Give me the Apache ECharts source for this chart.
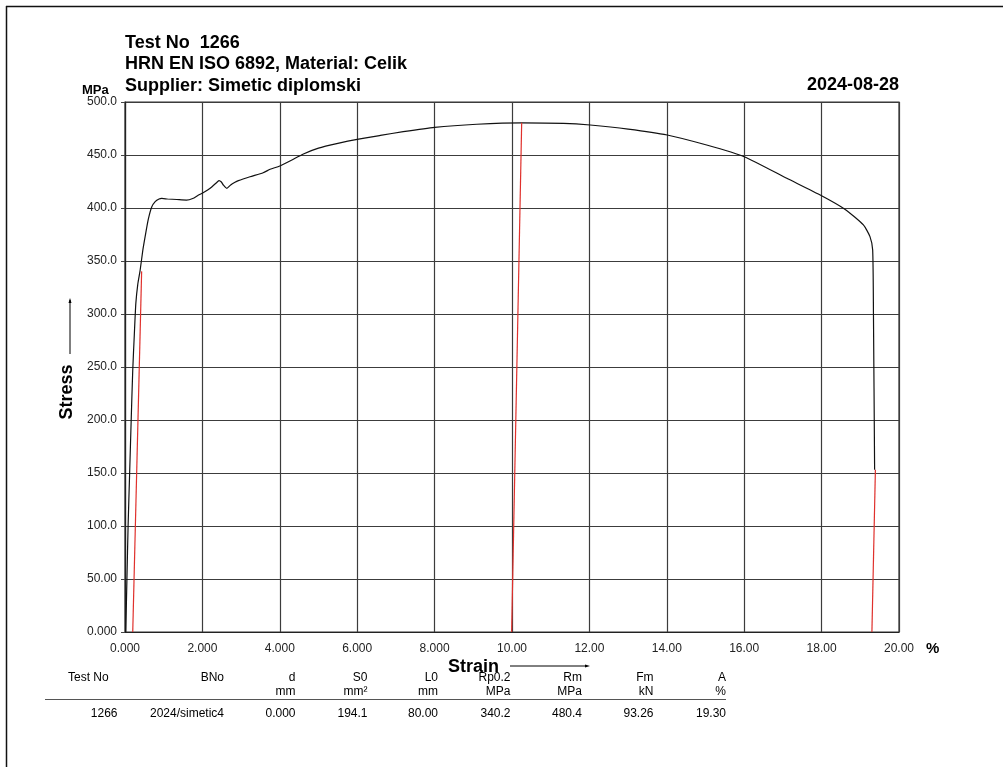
<!DOCTYPE html>
<html>
<head>
<meta charset="utf-8">
<script src="https://cdn.jsdelivr.net/npm/echarts@6/dist/echarts.min.js"></script>
<style>
html,body{margin:0;padding:0;background:#fff;}
#chart{width:1003px;height:767px;}
</style>
</head>
<body>
<div id="chart"></div>
<script>
// ---- data ----
const titleLines = ['Test No  1266', 'HRN EN ISO 6892, Material: Celik', 'Supplier: Simetic diplomski'];
const dateText = '2024-08-28';
const strain = [0.02, 0.05, 0.08, 0.12, 0.16, 0.20, 0.24, 0.28, 0.33, 0.39, 0.46, 0.52, 0.60, 0.69, 0.78, 0.88, 0.95, 1.10, 1.34, 1.59, 1.75, 1.89, 2.05, 2.20, 2.39, 2.43, 2.49, 2.54, 2.63, 2.73, 2.83, 2.93, 3.23, 3.57, 3.75, 4.00, 4.30, 4.61, 5.00, 5.50, 6.00, 6.60, 7.19, 8.00, 9.09, 10.25, 11.33, 12.02, 13.00, 14.01, 15.03, 16.00, 17.10, 18.00, 18.60, 19.08, 19.25, 19.32, 19.34, 19.37];
const stress = [0, 50, 100, 150, 200, 247, 280, 310, 328, 341, 360, 373, 389, 401, 406, 408.5, 409, 408.5, 408, 407.5, 409, 412, 415, 418.6, 424.8, 425.8, 424.5, 421.7, 418.6, 421.7, 424, 425.8, 429.5, 433.3, 436.5, 439.6, 445, 451, 456.5, 461, 464.8, 468.5, 472, 476.1, 479, 480.4, 479.9, 478.3, 474.5, 468.9, 459.4, 448.4, 428, 411.5, 398.8, 384, 373, 360.4, 300, 153];
const rpLineStrain = [0.20, 0.43];
const rpLineStress = [0, 340.2];
const rmLineStrain = [9.99, 10.25];
const rmLineStress = [0, 480.4];
const aLineStrain = [19.30, 19.39];
const aLineStress = [0, 153];
const tableHeaders = ['BNo', 'd', 'S0', 'L0', 'Rp0.2', 'Rm', 'Fm', 'A'];
const tableUnits = ['', 'mm', 'mm²', 'mm', 'MPa', 'MPa', 'kN', '%'];
const tableValues = ['2024/simetic4', '0.000', '194.1', '80.00', '340.2', '480.4', '93.26', '19.30'];
const testNoHeader = 'Test No';
const testNoValue = '1266';

const toPairs = (xs, ys) => xs.map((x, i) => [x, ys[i]]);
const fmt = v => Number(v).toPrecision(4);
const FONT = '"Liberation Sans", Arial, sans-serif';

const chart = echarts.init(document.getElementById('chart'), null, {renderer: 'canvas'});

const colRight = [224, 295.5, 367.5, 438, 510.5, 582, 653.5, 726];
const graphic = [];
// page border (top and left)
graphic.push({type: 'line', shape: {x1: 6, y1: 6.5, x2: 1003, y2: 6.5}, style: {stroke: '#111', lineWidth: 1.5}});
graphic.push({type: 'line', shape: {x1: 6.5, y1: 6, x2: 6.5, y2: 767}, style: {stroke: '#111', lineWidth: 1.5}});
// title lines
titleLines.forEach((t, i) => {
  graphic.push({type: 'text', left: 125, top: 34 + i * 21.5, style: {text: t, font: 'bold 18px ' + FONT, fill: '#000'}});
});
graphic.push({type: 'text', x: 899, y: 85, style: {text: dateText, font: 'bold 18px ' + FONT, fill: '#000', align: 'right', verticalAlign: 'middle'}});
graphic.push({type: 'text', x: 82, y: 90, style: {text: 'MPa', font: 'bold 13px ' + FONT, fill: '#000', verticalAlign: 'middle'}});
graphic.push({type: 'text', x: 926, y: 649, style: {text: '%', font: 'bold 15px ' + FONT, fill: '#000', verticalAlign: 'middle'}});
// Stress label with arrow
graphic.push({type: 'text', x: 67, y: 392, rotation: Math.PI / 2, style: {text: 'Stress', font: 'bold 18px ' + FONT, fill: '#000', align: 'center', verticalAlign: 'middle'}});
graphic.push({type: 'line', shape: {x1: 70, y1: 354, x2: 70, y2: 300}, style: {stroke: '#000', lineWidth: 1}});
graphic.push({type: 'polygon', shape: {points: [[70, 298], [68.5, 303], [71.5, 303]]}, style: {fill: '#000'}});
// Strain label with arrow
graphic.push({type: 'text', x: 448, y: 667, style: {text: 'Strain', font: 'bold 18px ' + FONT, fill: '#000', verticalAlign: 'middle'}});
graphic.push({type: 'line', shape: {x1: 510, y1: 666, x2: 587, y2: 666}, style: {stroke: '#000', lineWidth: 1}});
graphic.push({type: 'polygon', shape: {points: [[590, 666], [585, 664.5], [585, 667.5]]}, style: {fill: '#000'}});
// table
graphic.push({type: 'text', x: 68, y: 678, style: {text: testNoHeader, font: '12px ' + FONT, fill: '#000', verticalAlign: 'middle'}});
graphic.push({type: 'text', x: 117.5, y: 714, style: {text: testNoValue, font: '12px ' + FONT, fill: '#000', align: 'right', verticalAlign: 'middle'}});
tableHeaders.forEach((h, i) => {
  graphic.push({type: 'text', x: colRight[i], y: 678, style: {text: h, font: '12px ' + FONT, fill: '#000', align: 'right', verticalAlign: 'middle'}});
  if (tableUnits[i]) graphic.push({type: 'text', x: colRight[i], y: 692, style: {text: tableUnits[i], font: '12px ' + FONT, fill: '#000', align: 'right', verticalAlign: 'middle'}});
  graphic.push({type: 'text', x: colRight[i], y: 714, style: {text: tableValues[i], font: '12px ' + FONT, fill: '#000', align: 'right', verticalAlign: 'middle'}});
});
graphic.push({type: 'line', shape: {x1: 45, y1: 699.5, x2: 726, y2: 699.5}, style: {stroke: '#555', lineWidth: 1.2}});

const option = {
  backgroundColor: '#fff',
  animation: false,
  grid: {left: 125, right: 104, top: 102, bottom: 135, show: true, borderColor: '#333', borderWidth: 1.2, backgroundColor: 'transparent'},
  xAxis: {
    type: 'value', min: 0, max: 20, interval: 2,
    axisLine: {show: true, lineStyle: {color: '#222', width: 1.2}},
    axisTick: {show: false},
    splitLine: {show: true, lineStyle: {color: '#3c3c3c', width: 1.2}},
    axisLabel: {formatter: fmt, color: '#222', fontSize: 12, fontFamily: FONT, margin: 11}
  },
  yAxis: {
    type: 'value', min: 0, max: 500, interval: 50,
    axisLine: {show: true, lineStyle: {color: '#222', width: 1.2}},
    axisTick: {show: true, length: 4, lineStyle: {color: '#444'}},
    splitLine: {show: true, lineStyle: {color: '#3c3c3c', width: 1.2}},
    axisLabel: {formatter: fmt, color: '#222', fontSize: 12, fontFamily: FONT, margin: 8}
  },
  series: [
    {type: 'line', data: toPairs(strain, stress), showSymbol: false, smooth: 0.2, lineStyle: {color: '#111', width: 1.2}, z: 3},
    {type: 'line', data: toPairs(rpLineStrain, rpLineStress), showSymbol: false, lineStyle: {color: '#e0302c', width: 1.2}, z: 4},
    {type: 'line', data: toPairs(rmLineStrain, rmLineStress), showSymbol: false, lineStyle: {color: '#e0302c', width: 1.2}, z: 4},
    {type: 'line', data: toPairs(aLineStrain, aLineStress), showSymbol: false, lineStyle: {color: '#e0302c', width: 1.2}, z: 4}
  ],
  graphic: graphic
};
chart.setOption(option);
</script>
</body>
</html>
